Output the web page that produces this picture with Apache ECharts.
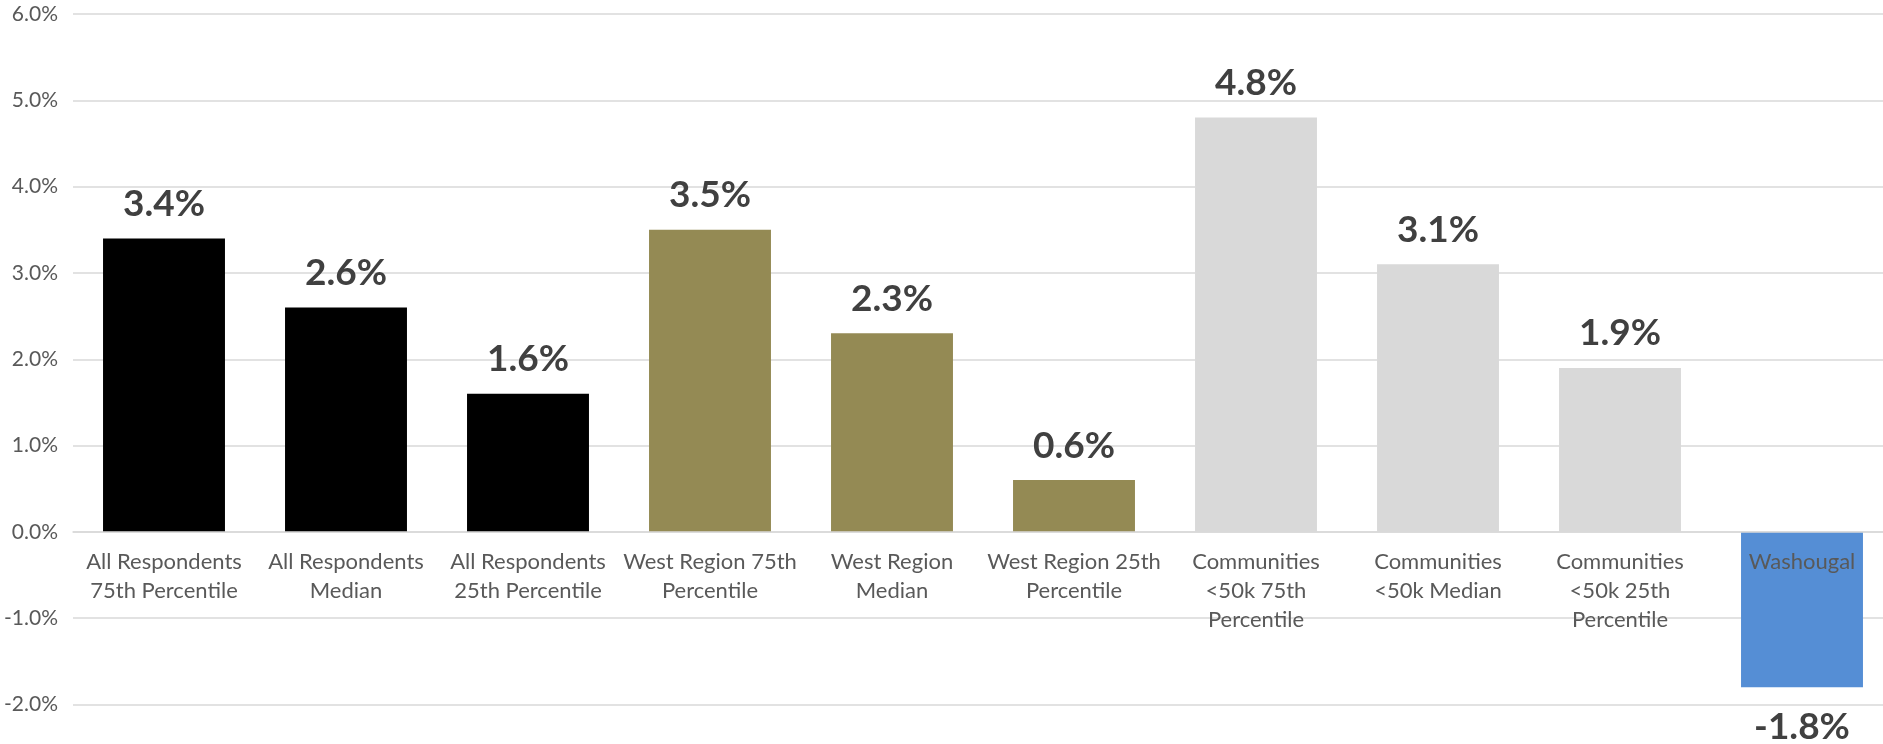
<!DOCTYPE html>
<html>
<head>
<meta charset="utf-8">
<title>Comparison</title>
<script src="https://cdn.jsdelivr.net/npm/echarts@6/dist/echarts.min.js"></script>
<style>
  html, body { margin: 0; padding: 0; background: #ffffff; }
  #chart { width: 1883px; height: 744px; }
</style>
</head>
<body>
<div id="chart"></div>
<script>
// Category labels (line breaks as they wrap under each bar)
const categories = [
  'All Respondents\n75th Percentile',
  'All Respondents\nMedian',
  'All Respondents\n25th Percentile',
  'West Region 75th\nPercentile',
  'West Region\nMedian',
  'West Region 25th\nPercentile',
  'Communities\n<50k 75th\nPercentile',
  'Communities\n<50k Median',
  'Communities\n<50k 25th\nPercentile',
  'Washougal'
];

// Values in percent
const values = [3.4, 2.6, 1.6, 3.5, 2.3, 0.6, 4.8, 3.1, 1.9, -1.8];

// Group each bar belongs to
const groups = ['all', 'all', 'all', 'west', 'west', 'west', 'small', 'small', 'small', 'city'];

// Y-axis ticks
const yMin = -2;
const yMax = 6;
const yStep = 1;

const groupColors = {
  all: '#000000',
  west: '#948A54',
  small: '#D9D9D9',
  city: '#558ED5'
};

const fmt = v => v.toFixed(1) + '%';

const chart = echarts.init(document.getElementById('chart'), null, { renderer: 'canvas' });

chart.setOption({
  animation: false,
  backgroundColor: '#ffffff',
  grid: {
    left: 73, right: -10, top: 14, bottom: 39.5,
    containLabel: false,
    outerBoundsMode: 'none'
  },
  xAxis: {
    type: 'category',
    data: categories,
    position: 'bottom',
    z: 10,
    axisLine: { show: true, onZero: false, lineStyle: { color: '#D9D9D9', width: 1.5 } },
    axisTick: { show: false },
    axisLabel: {
      interval: 0,
      margin: 16,
      color: '#595959',
      fontFamily: 'Lato',
      fontSize: 22,
      lineHeight: 29,
      align: 'center',
      hideOverlap: false
    }
  },
  yAxis: {
    type: 'value',
    min: yMin,
    max: yMax,
    interval: yStep,
    axisLine: { show: false },
    axisTick: { show: false },
    splitLine: { lineStyle: { color: '#D9D9D9', width: 1.5 } },
    axisLabel: {
      formatter: fmt,
      margin: 15,
      color: '#595959',
      fontFamily: 'Lato',
      fontSize: 21
    }
  },
  series: [{
    type: 'bar',
    barCategoryGap: '33%',
    data: values.map((v, i) => ({
      value: v,
      itemStyle: { color: groupColors[groups[i]] },
      label: v < 0 ? { position: 'bottom', distance: 21 } : { position: 'top', distance: 16 }
    })),
    label: {
      show: true,
      formatter: p => fmt(p.value),
      color: '#404040',
      fontFamily: 'Lato',
      fontWeight: 'bold',
      fontSize: 37
    }
  }]
});

// Lift the category axis (line and labels) up to the 0% level
const zeroPx = chart.convertToPixel({ yAxisIndex: 0 }, 0);
const bottomPx = chart.convertToPixel({ yAxisIndex: 0 }, yMin);
chart.setOption({ xAxis: { offset: -(bottomPx - zeroPx) } });
</script>
</body>
</html>
